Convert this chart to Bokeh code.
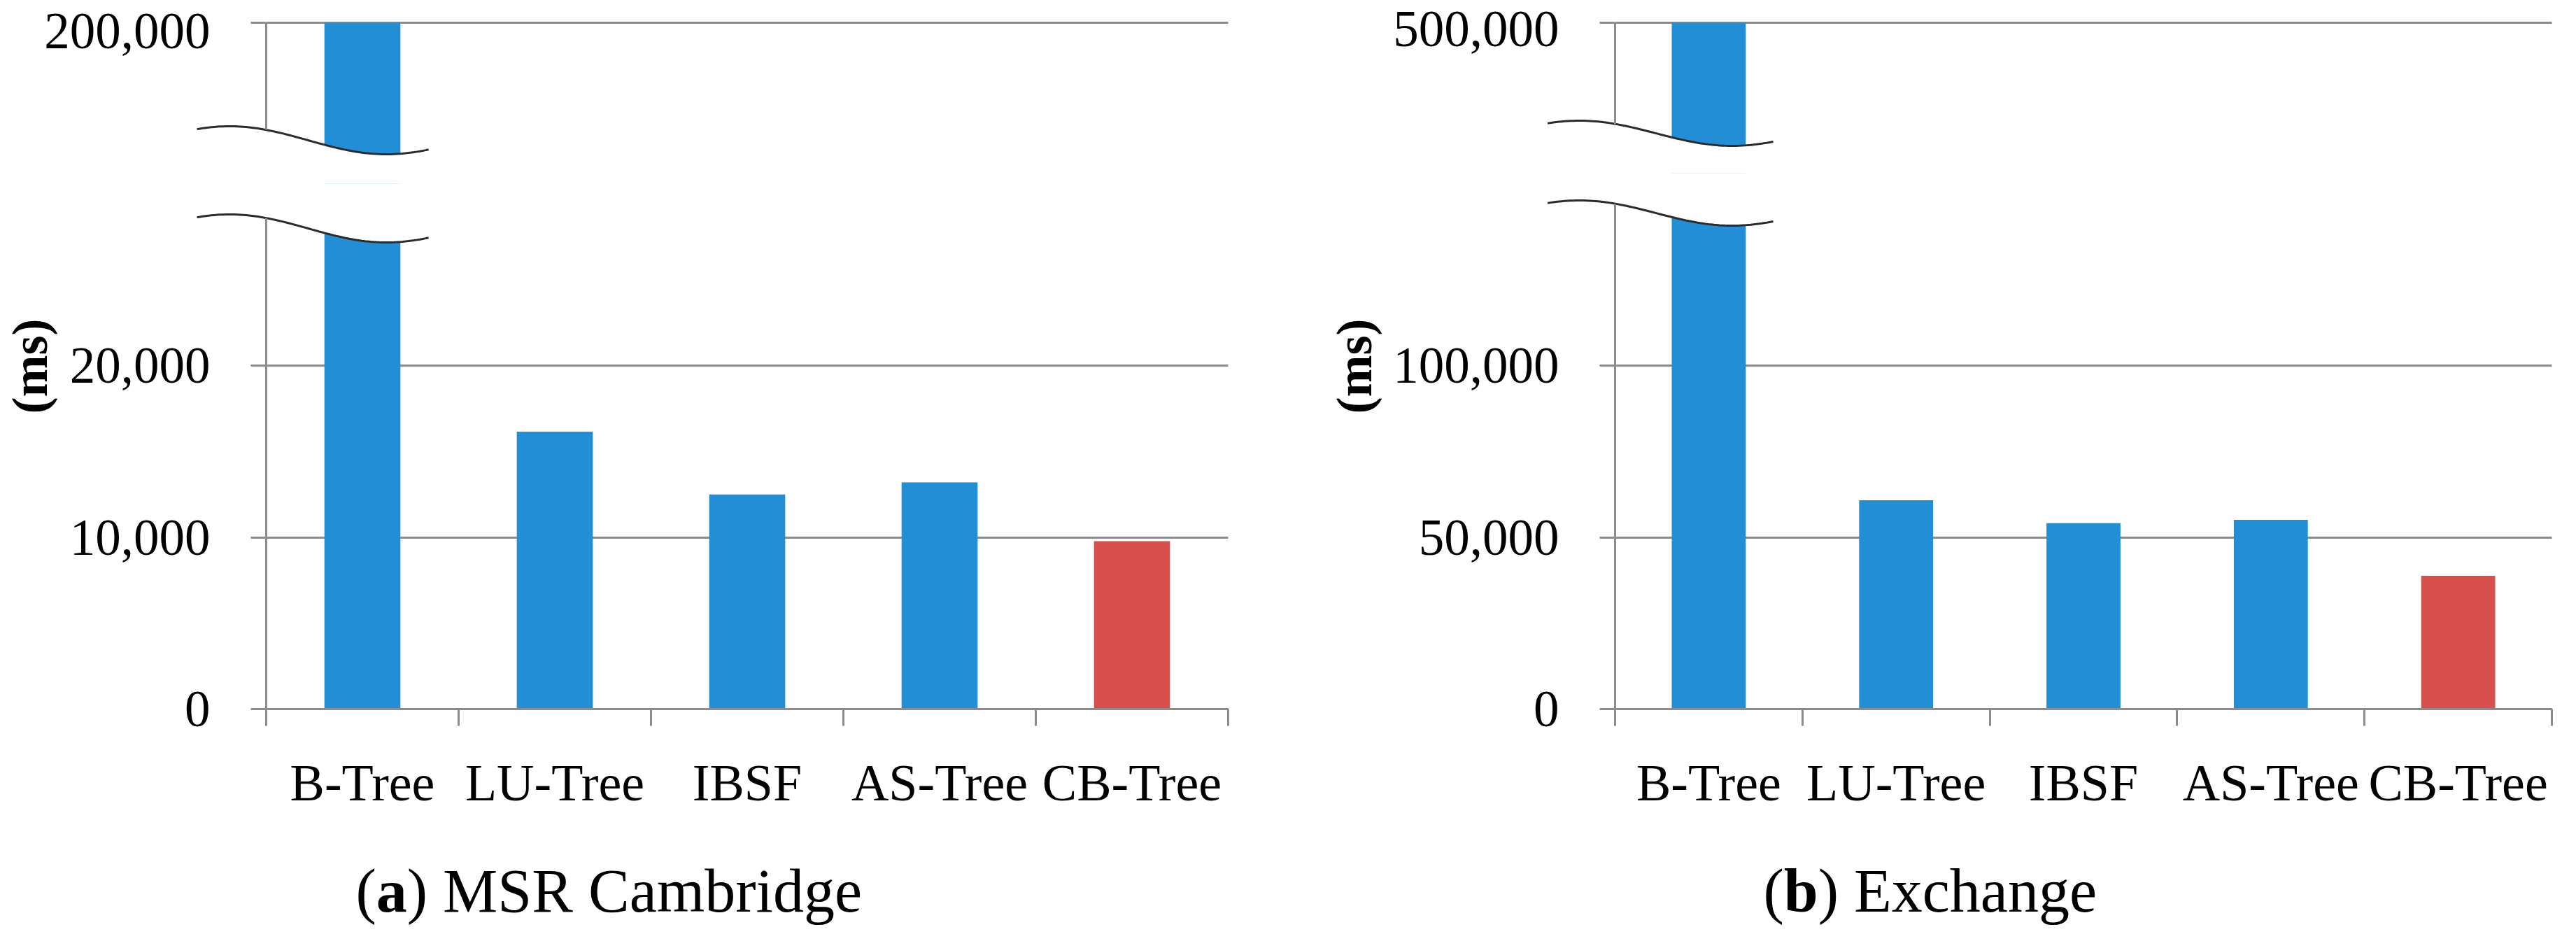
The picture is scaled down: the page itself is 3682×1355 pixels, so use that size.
import math
from bokeh.plotting import figure
from bokeh.models import (Range1d, LinearAxis, FixedTicker, Grid,
                          NumeralTickFormatter, Label, ColumnDataSource)
from bokeh.layouts import row, column
from bokeh.embed import file_html
from bokeh.resources import INLINE

# ---------------- data ----------------
categories = ["B-Tree", "LU-Tree", "IBSF", "AS-Tree", "CB-Tree"]
msr_values = [200000, 16150, 12500, 13200, 9780]          # B-Tree bar runs off the broken axis
exchange_values = [500000, 60800, 54100, 55100, 38800]
msr_lower_ticks = [0, 10000, 20000]
msr_upper_ticks = [200000]
exchange_lower_ticks = [0, 50000, 100000]
exchange_upper_ticks = [500000]
caption_letters = ["a", "b"]
caption_texts = ["MSR Cambridge", "Exchange"]
highlight = "CB-Tree"

# ---------------- style / layout ----------------
SERIF = "Liberation Serif"
BLUE = "#228ed6"
RED = "#d94f4c"
GRAY = "#8c8c8c"
WAVE = "#2b2b2b"
FIG_H = 1339          # page height of a panel
TOP_LINE = 32         # page y of the top (broken) gridline
ZERO_LINE = 1013      # page y of the zero line
CAPTION_MID = 1273    # page y of the middle of the caption line
MS_MID = 523          # page y of the middle of the "(ms)" title
U_PEAK, U_HALF = -0.19, 0.815
U_START, U_END = -0.36, 0.844


def style_y(ax):
    ax.axis_line_color = GRAY
    ax.axis_line_width = 3
    ax.major_tick_line_color = GRAY
    ax.major_tick_line_width = 3
    ax.major_tick_out = 22
    ax.major_tick_in = 0
    ax.minor_tick_line_color = None
    ax.major_label_text_font = SERIF
    ax.major_label_text_font_size = "73px"
    ax.major_label_text_color = "black"
    ax.major_label_standoff = 58
    ax.formatter = NumeralTickFormatter(format="0,0")


def base_fig(w, h, xr, yr):
    p = figure(width=w, height=h, frame_width=w, frame_height=h,
               min_border=0, x_range=xr, y_range=yr,
               x_axis_location=None, y_axis_location=None,
               output_backend="svg", toolbar_location=None)
    p.outline_line_color = None
    p.background_fill_color = "white"
    p.border_fill_color = "white"
    for g in p.xgrid:
        g.visible = False
    for g in p.ygrid:
        g.visible = False
    return p


def make_panel(values, lower_ticks, upper_ticks, lower_span, cat_w, fig_w,
               axis_x, split, letter, caption, caption_x, ms_x,
               wave_up, wave_low, wave_amp, top_label_drop):
    n = len(categories)
    top_val = upper_ticks[-1]
    pxu = (ZERO_LINE - TOP_LINE) / lower_span        # pixels per data unit
    x0 = -axis_x / cat_w
    x1 = (fig_w - axis_x) / cat_w
    centers = [i + 0.5 for i in range(n)]
    colors = [RED if c == highlight else BLUE for c in categories]
    src = ColumnDataSource(dict(x=centers, top=values, color=colors))

    us = [U_START + (U_END - U_START) * k / 80 for k in range(81)]

    def wave_px(mid, u):
        return mid - wave_amp * math.cos(math.pi * (u - U_PEAK) / U_HALF)

    # ---------- upper part (top of broken axis) ----------
    up_end = top_val + TOP_LINE / pxu
    up_start = up_end - split / pxu
    pu = base_fig(fig_w, split, Range1d(x0, x1), Range1d(up_start, up_end))
    pu.add_layout(Grid(dimension=1, ticker=FixedTicker(ticks=upper_ticks),
                       cross_bounds=(0, n), grid_line_color=GRAY,
                       grid_line_width=3))
    pu.vbar(x="x", top="top", bottom=0, width=0.395, fill_color="color",
            line_color=None, source=src)
    up_curve = [top_val - wave_px(wave_up, u) / pxu for u in us]
    pu.patch(us + us[::-1], up_curve + [up_start - 1000 / pxu] * len(us),
             fill_color="white", line_color=None)
    pu.line(us, up_curve, line_color=WAVE, line_width=3)
    # axis line + tick of the upper segment
    yu = LinearAxis(ticker=FixedTicker(ticks=upper_ticks),
                    bounds=(top_val - wave_px(wave_up, 0.0) / pxu, top_val),
                    fixed_location=0)
    style_y(yu)
    yu.major_label_overrides = {t: "" for t in upper_ticks}
    pu.add_layout(yu, "left")
    # its label sits a little below the line, as in the original chart
    lab_pos = [int(round(t - top_label_drop / pxu)) for t in upper_ticks]
    yl = LinearAxis(ticker=FixedTicker(ticks=lab_pos), fixed_location=0)
    style_y(yl)
    yl.axis_line_color = None
    yl.major_tick_line_color = None
    yl.major_label_overrides = {lp: f"{t:,}" for lp, t in zip(lab_pos, upper_ticks)}
    pu.add_layout(yl, "left")

    # ---------- lower part ----------
    lo_h = FIG_H - split
    lo_start = -(FIG_H - ZERO_LINE) / pxu
    lo_end = (ZERO_LINE - split) / pxu
    pl = base_fig(fig_w, lo_h, Range1d(x0, x1), Range1d(lo_start, lo_end))
    pl.add_layout(Grid(dimension=1, ticker=FixedTicker(ticks=lower_ticks),
                       cross_bounds=(0, n), grid_line_color=GRAY,
                       grid_line_width=3))
    pl.vbar(x="x", top="top", bottom=0, width=0.395, fill_color="color",
            line_color=None, source=src)
    lo_curve = [lower_span - wave_px(wave_low, u) / pxu for u in us]
    pl.patch(us + us[::-1], lo_curve + [lo_end + 1000 / pxu] * len(us),
             fill_color="white", line_color=None)
    pl.line(us, lo_curve, line_color=WAVE, line_width=3)
    ya = LinearAxis(ticker=FixedTicker(ticks=lower_ticks),
                    bounds=(0, lower_span - wave_px(wave_low, 0.0) / pxu),
                    fixed_location=0)
    style_y(ya)
    pl.add_layout(ya, "left")

    xa = LinearAxis(ticker=FixedTicker(ticks=centers, minor_ticks=list(range(n + 1))),
                    fixed_location=0, bounds=(0, n))
    xa.major_label_overrides = {c: lab for c, lab in zip(centers, categories)}
    xa.axis_line_color = GRAY
    xa.axis_line_width = 3
    xa.major_tick_line_color = None
    xa.major_tick_out = 0
    xa.major_tick_in = 0
    xa.minor_tick_line_color = GRAY
    xa.minor_tick_line_width = 3
    xa.minor_tick_out = 24
    xa.minor_tick_in = 0
    xa.major_label_text_font = SERIF
    xa.major_label_text_font_size = "74px"
    xa.major_label_text_color = "black"
    xa.major_label_standoff = 40
    pl.add_layout(xa, "below")

    # y axis title
    pl.add_layout(Label(x=ms_x, y=FIG_H - MS_MID, x_units="screen", y_units="screen",
                        text="(ms)", angle=math.pi / 2, text_align="center",
                        text_baseline="middle", text_font=SERIF,
                        text_font_size="72px", text_font_style="bold",
                        text_color="black"))

    # caption "(x) Name" with a bold letter
    fs = 88
    common = dict(y=FIG_H - CAPTION_MID, x_units="screen", y_units="screen",
                  text_align="left", text_baseline="middle", text_font=SERIF,
                  text_font_size=f"{fs}px", text_color="black")
    pl.add_layout(Label(x=caption_x, text="(", **common))
    x2 = caption_x + 0.333 * fs
    pl.add_layout(Label(x=x2, text=letter, text_font_style="bold", **common))
    lw = 0.5 if letter == "a" else 0.556
    x3 = x2 + lw * fs
    pl.add_layout(Label(x=x3, text=") " + caption, **common))
    return column(pu, pl, spacing=0)


left = make_panel(msr_values, msr_lower_ticks, msr_upper_ticks, 39960,
                  275, 1842, 380, 262, caption_letters[0], caption_texts[0],
                  508, 42, 168, 294, 20, 12)
right = make_panel(exchange_values, exchange_lower_ticks, exchange_upper_ticks,
                   199800, 267.8, 1824, 466, 247, caption_letters[1],
                   caption_texts[1], 678, 93, 158, 272, 18, 9)

layout = row(left, right, spacing=0)
open("out.html", "w").write(file_html(layout, INLINE))
